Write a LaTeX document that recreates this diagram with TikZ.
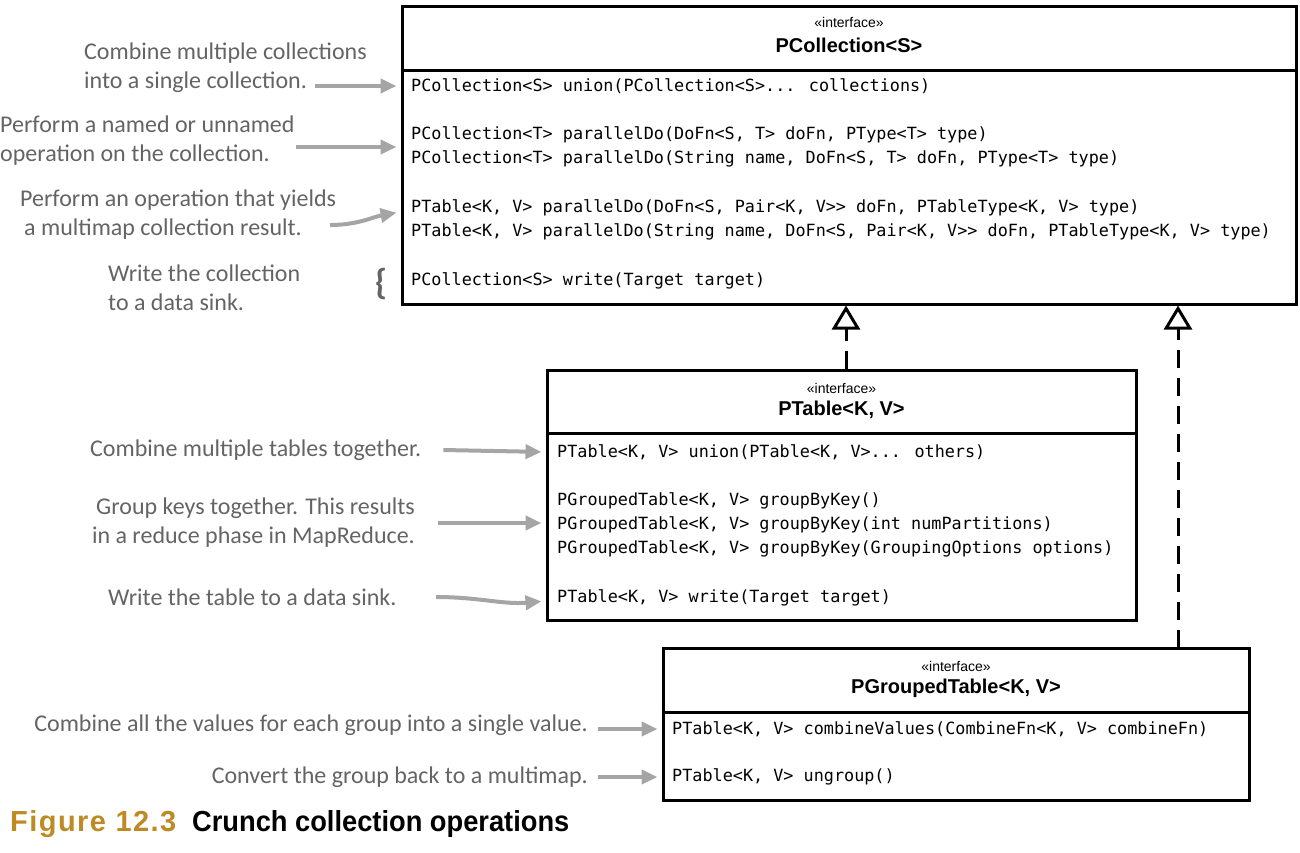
\documentclass[tikz,border=0pt]{standalone}
\usepackage{fontspec}
\setmainfont{Liberation Sans}
\newfontfamily\codefont{DejaVu Sans Mono}
\newfontfamily\notefont{Carlito}
\newfontfamily\capfont[FakeStretch=0.94]{Liberation Sans}
\newfontfamily\figfont[LetterSpace=5]{Liberation Sans}
\usetikzlibrary{arrows.meta}
\definecolor{notegray}{RGB}{100,100,100}
\definecolor{arrowgray}{RGB}{165,165,165}
\definecolor{figgold}{RGB}{190,138,36}
\tikzset{
	umlbox/.style={draw,line width=3pt,inner sep=0pt},
	stereo/.style={font=\fontsize{14}{16}\selectfont,inner sep=0pt},
	umltitle/.style={font=\bfseries\fontsize{20}{24}\selectfont,inner sep=0pt},
	method/.style={font=\codefont\fontsize{16.8}{20}\selectfont,anchor=west,inner sep=0pt},
	note/.style={font=\notefont\fontsize{24}{29}\selectfont,text=notegray,inner sep=0pt,align=left},
	notearrow/.style={draw=arrowgray,line width=4pt,shorten >=4pt,-{Triangle[length=16pt,width=14pt]}},
	realize/.style={line width=3pt,dash pattern=on 18pt off 10pt,-{Triangle[open,length=24pt,width=28pt,fill=white]}}
}
\begin{document}
\begin{tikzpicture}[x=1pt,y=-1pt]
	\useasboundingbox (0,0) rectangle (1300,852);

	% PCollection
	\node [umlbox,minimum width=894pt,minimum height=298pt] (pcoll) at (849,155) {};
	\draw [line width=3pt] (pcoll.west |- 0,70) -- (pcoll.east |- 0,70);
	\node [stereo] (pcollst) at (849,22) {«interface»};
	\node [umltitle] (pcollti) at (849,45) {PCollection<S>};
	\node [method] (c1) at (411,86) {PCollection<S> union(PCollection<S>... collections)};
	\node [method] (c2) at (411,134.6) {PCollection<T> parallelDo(DoFn<S, T> doFn, PType<T> type)};
	\node [method] (c3) at (411,159) {PCollection<T> parallelDo(String name, DoFn<S, T> doFn, PType<T> type)};
	\node [method] (c4) at (411,207.5) {PTable<K, V> parallelDo(DoFn<S, Pair<K, V>> doFn, PTableType<K, V> type)};
	\node [method] (c5) at (411,232) {PTable<K, V> parallelDo(String name, DoFn<S, Pair<K, V>> doFn, PTableType<K, V> type)};
	\node [method] (c6) at (411,280.4) {PCollection<S> write(Target target)};

	% PTable
	\node [umlbox,minimum width=589pt,minimum height=250pt] (ptable) at (841.5,495) {};
	\draw [line width=3pt] (ptable.west |- 0,433) -- (ptable.east |- 0,433);
	\node [stereo] (ptablest) at (841.5,388) {«interface»};
	\node [umltitle] (ptableti) at (841.5,410) {PTable<K, V>};
	\node [method] (t1) at (557,452) {PTable<K, V> union(PTable<K, V>... others)};
	\node [method] (t2) at (557,500.6) {PGroupedTable<K, V> groupByKey()};
	\node [method] (t3) at (557,525) {PGroupedTable<K, V> groupByKey(int numPartitions)};
	\node [method] (t4) at (557,549.2) {PGroupedTable<K, V> groupByKey(GroupingOptions options)};
	\node [method] (t5) at (557,597.8) {PTable<K, V> write(Target target)};

	% PGroupedTable
	\node [umlbox,minimum width=586pt,minimum height=152pt] (pgroup) at (956,724) {};
	\draw [line width=3pt] (pgroup.west |- 0,712) -- (pgroup.east |- 0,712);
	\node [stereo] (pgroupst) at (956,666) {«interface»};
	\node [umltitle] (pgroupti) at (956,688) {PGroupedTable<K, V>};
	\node [method] (g1) at (672,729) {PTable<K, V> combineValues(CombineFn<K, V> combineFn)};
	\node [method] (g2) at (672,777) {PTable<K, V> ungroup()};

	% realizations
	\coordinate (r2) at (1178,648);
	\draw [realize] (ptable.north -| 846,0) -- (pcoll.south -| 846,0);
	\draw [realize] (r2) -- (r2 |- pcoll.south);

	% notes
	\node [note,anchor=west] (n1) at (84,68) {Combine multiple collections\\into a single collection.};
	\node [note,anchor=west] (n2) at (0,141) {Perform a named or unnamed\\operation on the collection.};
	\node [note,anchor=west] (n3) at (20,215) {Perform an operation that yields\\\,a multimap collection result.};
	\node [note,anchor=west] (n4) at (108,288) {Write the collection\\to a data sink.};
	\node [note,font=\notefont\bfseries\fontsize{36}{36}\selectfont] (brace) at (381,284) {\{};
	\node [note,anchor=west] (n5) at (90,450) {Combine multiple tables together.};
	\node [note,anchor=east,align=right] (n6) at (415,523) {Group keys together. This results\\in a reduce phase in MapReduce.};
	\node [note,anchor=west] (n7) at (108,597) {Write the table to a data sink.};
	\node [note,anchor=east] (n8) at (588,725) {Combine all the values for each group into a single value.};
	\node [note,anchor=east] (n9) at (588,777) {Convert the group back to a multimap.};

	\coordinate (a1) at (315,86);
	\coordinate (a2) at (296,147);
	\coordinate (a3) at (330,225);
	\coordinate (a6) at (438,523);
	\coordinate (a7) at (436,597);
	\draw [notearrow] (a1) -- (c1.west -| pcoll.west);
	\draw [notearrow] (a2) -- (pcoll.west |- 0,147);
	\draw [notearrow] (a3) to[out=0,in=190] (pcoll.west |- 0,212);
	\draw [notearrow] ([xshift=22pt]n5.east) -- (t1.west -| ptable.west);
	\draw [notearrow] (a6) -- (ptable.west |- a6);
	\draw [notearrow] (a7) to[out=0,in=185] (ptable.west |- 0,601);
	\draw [notearrow] ([xshift=10pt]n8.east |- g1.west) -- (g1.west -| pgroup.west);
	\draw [notearrow] ([xshift=10pt]n9.east |- g2.west) -- (g2.west -| pgroup.west);

	% caption
	\node [anchor=west,inner sep=0pt,text=figgold,font=\figfont\bfseries\fontsize{29}{30}\selectfont] (figlabel) at (10,824) {Figure 12.3};
	\node [anchor=west,inner sep=0pt,font=\capfont\bfseries\fontsize{29}{30}\selectfont] (caption) at (192,824) {Crunch collection operations};
\end{tikzpicture}
\end{document}
